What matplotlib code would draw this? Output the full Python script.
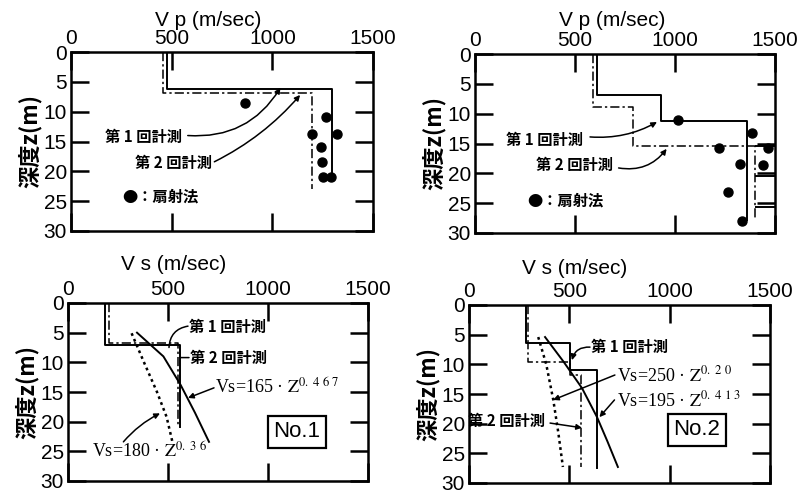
import matplotlib
matplotlib.use("Agg")
import matplotlib.pyplot as plt

# fuentes: latin + japones
plt.rcParams['font.family'] = ['Liberation Sans', 'Noto Sans CJK JP', 'DejaVu Sans']
plt.rcParams['mathtext.fontset'] = 'stix'

# ---------------- datos ----------------
# Vp No.1 (arriba izquierda)
vp1_run1_v = [477, 477, 1296, 1296]
vp1_run1_z = [0, 6.2, 6.2, 20.5]
vp1_run2_v = [457, 457, 1197, 1197]
vp1_run2_z = [0, 6.9, 6.9, 23.0]
vp1_fan_v = [863, 1265, 1197, 1323, 1244, 1249, 1252, 1293]
vp1_fan_z = [8.5, 10.9, 13.7, 13.7, 15.9, 18.4, 21.0, 21.0]

# Vp No.2 (arriba derecha)
vp2_run1_v = [608, 608, 928, 928, 1362, 1362]
vp2_run1_z = [0, 6.9, 6.9, 11.3, 11.3, 27.8]
vp2_run2_v = [588, 588, 792, 792, 1400, 1400]
vp2_run2_z = [0, 8.9, 8.9, 15.4, 15.4, 27.8]
vp2_box_z = [15.4, 20.4, 25.6]
vp2_fan_v = [1017, 1383, 1222, 1467, 1325, 1438, 1267, 1337]
vp2_fan_z = [11.0, 13.3, 15.8, 15.8, 18.4, 18.6, 23.2, 28.0]

# Vs No.1 (abajo izquierda)
vs1_run1_v = [185, 185, 560, 560]
vs1_run1_z = [0, 7.1, 7.1, 20.9]
vs1_run2_v = [205, 205, 552, 552]
vs1_run2_z = [0, 6.8, 6.8, 20.6]
vs1_fitA_z = [5.0, 9.0, 13.8, 18.5, 23.4]
vs1_fitA_v = [345, 477, 563, 635, 705]
vs1_fitB_z = [5.1, 10.0, 15.0, 19.2, 23.4]
vs1_fitB_v = [318, 380, 445, 493, 522]

# Vs No.2 (abajo derecha)
vs2_run1_v = [284, 284, 503, 503, 638, 638]
vs2_run1_z = [0, 6.4, 6.4, 11.0, 11.0, 27.5]
vs2_run2_v = [294, 294, 503, 503, 558, 558]
vs2_run2_z = [0, 9.6, 9.6, 11.8, 11.8, 27.3]
vs2_fitA_z = [5.4, 9.5, 14.0, 18.9, 23.0, 27.3]
vs2_fitA_v = [379, 470, 563, 638, 690, 742]
vs2_fitB_z = [5.4, 10.0, 16.0, 21.5, 27.3]
vs2_fitB_v = [345, 385, 420, 445, 468]

x_ticks = [0, 500, 1000, 1500]
z_ticks = [0, 5, 10, 15, 20, 25, 30]

DASHDOT = (0, (6, 2, 1.5, 2))
CJK = ['Noto Sans CJK JP', 'DejaVu Sans']
SERIF = ['Liberation Serif', 'DejaVu Serif']

fig = plt.figure(figsize=(8.11, 4.91), dpi=100)


# crea un panel con el estilo de la figura original
def panel(px):
    x0, y0, x1, y1 = px
    ax = fig.add_axes([x0 / 811, 1 - y1 / 491, (x1 - x0) / 811, (y1 - y0) / 491])
    ax.set_xlim(0, 1500)
    ax.set_ylim(30, 0)
    ax.set_xticks(x_ticks)
    ax.set_yticks(z_ticks)
    ax.xaxis.tick_top()
    ax.tick_params(direction='in', length=13, width=1.8, labelsize=15, pad=3,
                   top=True, bottom=True, left=True, right=True,
                   labeltop=True, labelbottom=False)
    for s in ax.spines.values():
        s.set_linewidth(1.8)
    ax.set_ylabel('深度z(m)', family=CJK, fontsize=16, fontweight='bold', labelpad=1)
    return ax


def flecha(ax, a, b, rad=0.0, head=True):
    ax.annotate('', xy=b, xytext=a,
                arrowprops=dict(arrowstyle='-|>' if head else '-', color='k', lw=1.1,
                                mutation_scale=8, shrinkA=0, shrinkB=0,
                                connectionstyle=f'arc3,rad={rad}'))


def etiqueta(ax, x, z, s, ha='center'):
    ax.text(x, z, s, family=CJK, fontsize=11, fontweight='bold', ha=ha, va='center')


def formula(ax, x, z, s):
    ax.text(x, z, s, family=SERIF, fontsize=13, ha='left', va='center')


# ---------------- Vp No.1 ----------------
ax1 = panel((71, 52, 373, 231))
ax1.plot(vp1_run1_v, vp1_run1_z, color='k', lw=1.4)
ax1.plot(vp1_run2_v, vp1_run2_z, color='k', lw=1.1, linestyle=DASHDOT)
ax1.plot(vp1_fan_v, vp1_fan_z, 'o', color='k', ms=6.5)
etiqueta(ax1, 358, 14.2, '第 1 回計測')
etiqueta(ax1, 507, 18.6, '第 2 回計測')
etiqueta(ax1, 442, 24.3, '●：扇射法')
flecha(ax1, (580, 14.0), (1040, 6.0), 0.3)
flecha(ax1, (712, 18.4), (1138, 7.2), 0.1)
fig.text(208 / 811, 1 - 20 / 491, 'V p (m/sec)', fontsize=15, ha='center', va='center')

# ---------------- Vp No.2 ----------------
ax2 = panel((475, 54, 775, 233))
ax2.plot(vp2_run1_v, vp2_run1_z, color='k', lw=1.4)
ax2.plot(vp2_run2_v, vp2_run2_z, color='k', lw=1.1, linestyle=DASHDOT)
ax2.hlines(vp2_box_z, vp2_run2_v[-1], 1500, color='k', lw=1.4)
ax2.plot(vp2_fan_v, vp2_fan_z, 'o', color='k', ms=6.5)
etiqueta(ax2, 350, 14.4, '第 1 回計測')
etiqueta(ax2, 500, 18.6, '第 2 回計測')
etiqueta(ax2, 450, 24.5, '●：扇射法')
flecha(ax2, (575, 13.9), (910, 11.4), 0.15)
flecha(ax2, (718, 19.1), (958, 15.9), 0.3)
fig.text(612 / 811, 1 - 20 / 491, 'V p (m/sec)', fontsize=15, ha='center', va='center')

# ---------------- Vs No.1 ----------------
ax3 = panel((68, 303, 368, 481))
ax3.plot(vs1_run1_v, vs1_run1_z, color='k', lw=1.4)
ax3.plot(vs1_run2_v, vs1_run2_z, color='k', lw=1.1, linestyle=DASHDOT)
ax3.plot(vs1_fitA_v, vs1_fitA_z, color='k', lw=1.4)
ax3.plot(vs1_fitB_v, vs1_fitB_z, color='k', lw=1.8, linestyle=(0, (1.1, 1.4)))
etiqueta(ax3, 605, 4.0, '第 1 回計測', ha='left')
etiqueta(ax3, 610, 9.2, '第 2 回計測', ha='left')
flecha(ax3, (600, 3.9), (505, 7.5), 0.4, head=False)
flecha(ax3, (560, 9.2), (605, 9.2), 0.0, head=False)
formula(ax3, 735, 14.2, r'Vs=165 · $\mathrm{Z}^{0.\ 4\ 6\ 7}$')
formula(ax3, 118, 25.1, r'Vs=180 · $\mathrm{Z}^{0.\ 3\ 6}$')
flecha(ax3, (730, 14.3), (600, 16.0), 0.0)
flecha(ax3, (277, 23.4), (460, 18.6), -0.1)
ax3.text(1145, 21.7, 'No.1', fontsize=16, ha='center', va='center',
         bbox=dict(boxstyle='square,pad=0.25', fc='white', ec='k', lw=1.6))
fig.text(174 / 811, 1 - 265 / 491, 'V s (m/sec)', fontsize=15, ha='center', va='center')

# ---------------- Vs No.2 ----------------
ax4 = panel((469, 305, 770, 483))
ax4.plot(vs2_run1_v, vs2_run1_z, color='k', lw=1.4)
ax4.plot(vs2_run2_v, vs2_run2_z, color='k', lw=1.1, linestyle=DASHDOT)
ax4.plot(vs2_fitA_v, vs2_fitA_z, color='k', lw=1.4)
ax4.plot(vs2_fitB_v, vs2_fitB_z, color='k', lw=1.8, linestyle=(0, (1.1, 1.4)))
etiqueta(ax4, 610, 7.0, '第 1 回計測', ha='left')
etiqueta(ax4, -5, 19.6, '第 2 回計測', ha='left')
flecha(ax4, (603, 7.1), (513, 9.3), 0.4)
flecha(ax4, (404, 19.9), (563, 20.7), 0.0)
formula(ax4, 737, 11.8, r'Vs=250 · $\mathrm{Z}^{0.\ 2\ 0}$')
formula(ax4, 737, 16.0, r'Vs=195 · $\mathrm{Z}^{0.\ 4\ 1\ 3}$')
flecha(ax4, (727, 11.8), (419, 16.0), 0.0)
flecha(ax4, (725, 16.0), (650, 18.9), 0.0)
ax4.text(1136, 21.0, 'No.2', fontsize=16, ha='center', va='center',
         bbox=dict(boxstyle='square,pad=0.25', fc='white', ec='k', lw=1.6))
fig.text(575 / 811, 1 - 268 / 491, 'V s (m/sec)', fontsize=15, ha='center', va='center')

fig.savefig('out.png', dpi=100)
